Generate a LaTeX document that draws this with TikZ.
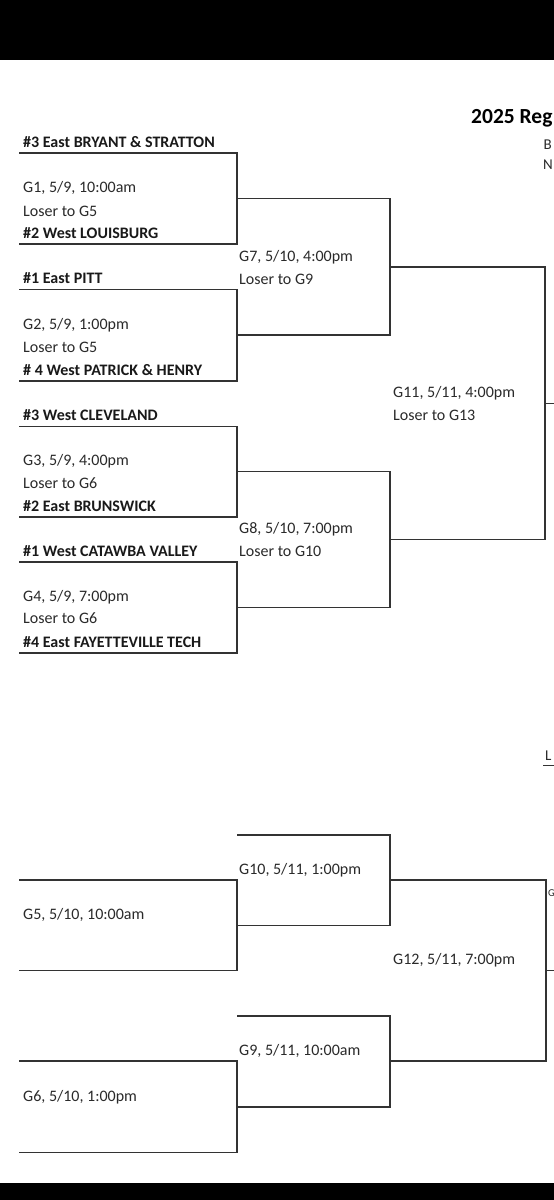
\documentclass[tikz,border=0pt]{standalone}
\usepackage{fontspec}
\setmainfont{Carlito}
\definecolor{linegray}{HTML}{333333}
\definecolor{txtgray}{HTML}{2A2A2A}
\newcommand\bracketg[5]{%
  \coordinate (#1-tl) at (#2,#4);
  \coordinate (#1-tr) at (#3,#4);
  \coordinate (#1-br) at (#3,#5);
  \coordinate (#1-bl) at (#2,#5);
  \coordinate (#1-m) at (#3,{(#4+#5)/2});
  \draw[bline] (#1-tl) -- (#1-tr) -- (#1-br) -- (#1-bl);
}
\begin{document}
\begin{tikzpicture}[x=1pt,y=-1pt,
  bline/.style={draw=linegray,line width=1.5pt},
  team/.style={anchor=base west,inner sep=0pt,text=black!90,font=\fontsize{16}{19}\selectfont\bfseries},
  info/.style={anchor=base west,inner sep=0pt,text=txtgray,font=\fontsize{16}{19}\selectfont},
  edge/.style={anchor=base west,inner sep=0pt,text=txtgray,font=\fontsize{15}{18}\selectfont},
  ttl/.style={anchor=base west,inner sep=0pt,text=black,font=\fontsize{21.5}{24}\selectfont\bfseries}]
\useasboundingbox (0,0) rectangle (554,1200);
\clip (0,0) rectangle (554,1200);
\fill[white] (0,0) rectangle (554,1200);
\fill[black] (0,0) rectangle (554,60);
\fill[black] (0,1183) rectangle (554,1200);

% round 1 (winners)
\bracketg{g1}{19}{237}{153}{244}
\bracketg{g2}{19}{237}{289.5}{381}
\bracketg{g3}{19}{237}{426.5}{517}
\bracketg{g4}{19}{237}{562}{653}
% round 2
\bracketg{g7}{237}{390}{198.5}{335}
\bracketg{g8}{237}{390}{471.5}{607.5}
% round 3
\bracketg{g11}{390}{545}{267}{539.5}
\coordinate (g11-out) at (554,403.25);
\draw[bline] (g11-m) -- (g11-out);

% loser bracket
\bracketg{g5}{19}{237}{880}{970.5}
\bracketg{g6}{19}{237}{1061}{1152.5}
\bracketg{g10}{237}{390}{835}{925.25}
\bracketg{g9}{237}{390}{1016}{1106.75}
\bracketg{g12}{390}{546}{880}{1061}
\coordinate (g12-out) at (554,970.5);
\draw[bline] (g12-m) -- (g12-out);

% loser slot underline on right
\coordinate (l-a) at (543,765.7);
\coordinate (l-b) at (554,765.7);
\draw[bline] (l-a) -- (l-b);

% title fragments
\node[ttl] (title) at (471,123) {2025 Reg};
\node[edge] (tb) at (543.5,149) {B};
\node[edge] (tn) at (543,169) {N};
\node[edge] (tl) at (545,760) {L};
\node[edge,font=\fontsize{10.5}{12}\selectfont] (tg) at (548,896) {G};

% teams
\node[team] (t1) at (23,147) {\#3 East BRYANT \& STRATTON};
\node[team] (t2) at (23,238) {\#2 West LOUISBURG};
\node[team] (t3) at (23,283.5) {\#1 East PITT};
\node[team] (t4) at (23,375) {\# 4 West PATRICK \& HENRY};
\node[team] (t5) at (23,420.5) {\#3 West CLEVELAND};
\node[team] (t6) at (23,511) {\#2 East BRUNSWICK};
\node[team] (t7) at (23,556) {\#1 West CATAWBA VALLEY};
\node[team] (t8) at (23,647) {\#4 East FAYETTEVILLE TECH};

% game info
\node[info] (i1) at (23,192.5) {G1, 5/9, 10:00am};
\node[info] (l1) at (23,216.5) {Loser to G5};
\node[info] (i2) at (23,329) {G2, 5/9, 1:00pm};
\node[info] (l2) at (23,352) {Loser to G5};
\node[info] (i3) at (23,465.5) {G3, 5/9, 4:00pm};
\node[info] (l3) at (23,488.5) {Loser to G6};
\node[info] (i4) at (23,601.5) {G4, 5/9, 7:00pm};
\node[info] (l4) at (23,623.5) {Loser to G6};
\node[info] (i7) at (239,261) {G7, 5/10, 4:00pm};
\node[info] (l7) at (239,284) {Loser to G9};
\node[info] (i8) at (239,533.5) {G8, 5/10, 7:00pm};
\node[info] (l8) at (239,556) {Loser to G10};
\node[info] (i11) at (393,397) {G11, 5/11, 4:00pm};
\node[info] (l11) at (393,420) {Loser to G13};
\node[info] (i5) at (23,919) {G5, 5/10, 10:00am};
\node[info] (i6) at (23,1101) {G6, 5/10, 1:00pm};
\node[info] (i10) at (239,874) {G10, 5/11, 1:00pm};
\node[info] (i9) at (239,1055) {G9, 5/11, 10:00am};
\node[info] (i12) at (393,964.5) {G12, 5/11, 7:00pm};
\end{tikzpicture}
\end{document}
